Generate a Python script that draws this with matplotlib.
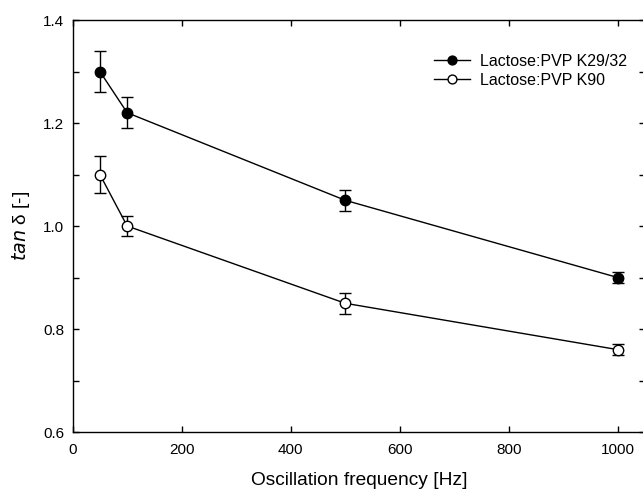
import matplotlib
matplotlib.use("Agg")
import matplotlib.pyplot as plt
from matplotlib.ticker import MultipleLocator, FormatStrFormatter

freq = [50, 100, 500, 1000]
k2932 = [1.30, 1.22, 1.05, 0.90]
k2932_err = [0.04, 0.03, 0.02, 0.01]
k90 = [1.10, 1.00, 0.85, 0.76]
k90_err = [0.035, 0.02, 0.02, 0.01]
labels = ["Lactose:PVP K29/32", "Lactose:PVP K90"]

plt.rcParams['font.family'] = ['Liberation Sans', 'DejaVu Sans']

fig = plt.figure(figsize=(6.43, 4.93), dpi=100)
ax = fig.add_axes([0.113, 0.1237, 0.890, 0.8357])

eb1 = ax.errorbar(freq, k2932, yerr=k2932_err, color='black', lw=1, marker='o',
                  ms=7.5, mfc='black', mec='black', capsize=4, elinewidth=1,
                  capthick=1, zorder=3)
eb2 = ax.errorbar(freq, k90, yerr=k90_err, color='black', lw=1, marker='o',
                  ms=7.5, mfc='white', mec='black', capsize=4, elinewidth=1,
                  capthick=1, zorder=3)

ax.set_xlim(0, 1050)
ax.set_ylim(0.6, 1.4)
ax.xaxis.set_major_locator(MultipleLocator(200))
ax.yaxis.set_major_locator(MultipleLocator(0.2))
ax.yaxis.set_minor_locator(MultipleLocator(0.1))
ax.yaxis.set_major_formatter(FormatStrFormatter('%.1f'))
ax.tick_params(which='both', direction='in', top=True, right=True,
               labelsize=11, width=1)
ax.tick_params(which='major', length=4, pad=6)
ax.tick_params(which='minor', length=4)
ax.tick_params(axis='x', pad=8)
for s in ax.spines.values():
    s.set_linewidth(1)

ax.set_xlabel("Oscillation frequency [Hz]", fontsize=13.8, labelpad=11)
ax.set_ylabel(r"$\it{tan}$ δ [-]", fontsize=13.8, labelpad=8)

leg = ax.legend([eb1[0], eb2[0]], labels, loc='center left',
                bbox_to_anchor=(434 / 643, 1 - 71 / 493),
                bbox_transform=fig.transFigure, frameon=False,
                fontsize=11.5, handlelength=2.25, handletextpad=0.6,
                labelspacing=0.25, borderpad=0, borderaxespad=0,
                markerscale=0.85)

fig.savefig("out.png", dpi=100)
